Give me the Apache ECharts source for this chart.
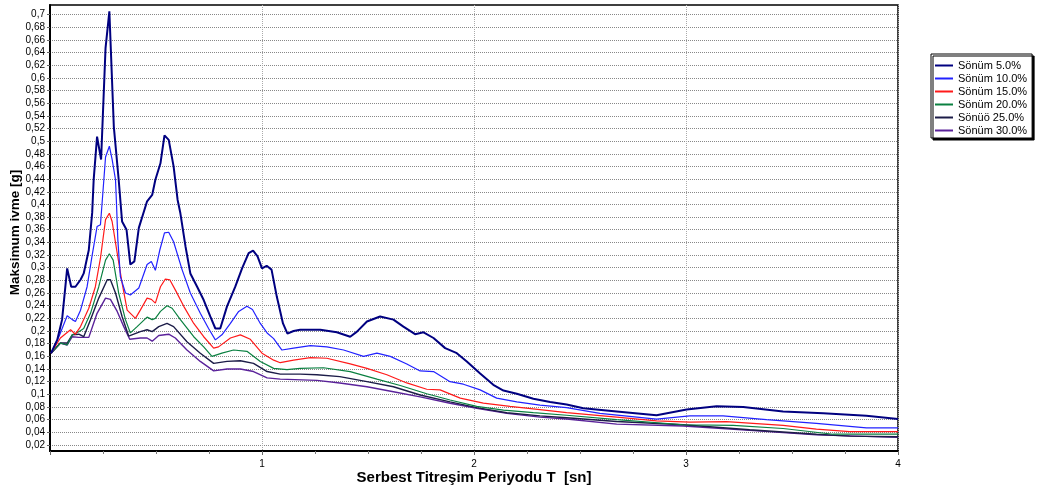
<!DOCTYPE html>
<html>
<head>
<meta charset="utf-8">
<script src="https://cdn.jsdelivr.net/npm/echarts@6/dist/echarts.min.js"></script>
<style>
html,body{margin:0;padding:0;background:#fff;}
#chart{width:1041px;height:493px;}
</style>
</head>
<body>
<div id="chart"></div>
<script>
const seriesNames = ['Sönüm 5.0%', 'Sönüm 10.0%', 'Sönüm 15.0%', 'Sönüm 20.0%', 'Sönüö 25.0%', 'Sönüm 30.0%'];

const yTicks = [0.02,0.04,0.06,0.08,0.1,0.12,0.14,0.16,0.18,0.2,0.22,0.24,0.26,0.28,0.3,0.32,0.34,0.36,0.38,0.4,0.42,0.44,0.46,0.48,0.5,0.52,0.54,0.56,0.58,0.6,0.62,0.64,0.66,0.68,0.7];

const damp5 = [[0.005,0.165],[0.034,0.186],[0.057,0.218],[0.081,0.299],[0.100,0.270],[0.120,0.270],[0.144,0.281],[0.159,0.291],[0.183,0.328],[0.199,0.387],[0.206,0.439],[0.222,0.507],[0.241,0.471],[0.262,0.647],[0.280,0.705],[0.301,0.523],[0.324,0.439],[0.340,0.373],[0.361,0.360],[0.379,0.305],[0.398,0.310],[0.419,0.363],[0.458,0.405],[0.482,0.415],[0.497,0.439],[0.521,0.465],[0.540,0.509],[0.560,0.502],[0.583,0.460],[0.602,0.407],[0.615,0.386],[0.639,0.334],[0.662,0.291],[0.694,0.270],[0.725,0.249],[0.756,0.223],[0.780,0.204],[0.803,0.204],[0.835,0.239],[0.874,0.270],[0.906,0.299],[0.937,0.323],[0.958,0.327],[0.979,0.318],[1.000,0.299],[1.022,0.303],[1.045,0.297],[1.070,0.254],[1.099,0.212],[1.120,0.196],[1.149,0.200],[1.180,0.202],[1.275,0.202],[1.353,0.198],[1.416,0.191],[1.448,0.199],[1.495,0.215],[1.557,0.223],[1.620,0.218],[1.667,0.207],[1.722,0.195],[1.762,0.198],[1.809,0.189],[1.864,0.173],[1.919,0.165],[1.966,0.152],[2.029,0.133],[2.091,0.115],[2.139,0.106],[2.202,0.101],[2.280,0.093],[2.359,0.088],[2.437,0.084],[2.516,0.078],[2.673,0.073],[2.861,0.067],[3.003,0.076],[3.144,0.081],[3.270,0.080],[3.458,0.073],[3.647,0.070],[3.851,0.066],[4.0,0.061]];

const damp10 = [[0.005,0.165],[0.042,0.191],[0.081,0.224],[0.105,0.218],[0.120,0.215],[0.144,0.233],[0.175,0.270],[0.199,0.320],[0.222,0.365],[0.238,0.368],[0.254,0.439],[0.262,0.475],[0.280,0.492],[0.293,0.471],[0.309,0.439],[0.313,0.407],[0.320,0.344],[0.332,0.286],[0.356,0.260],[0.379,0.257],[0.419,0.268],[0.458,0.305],[0.478,0.310],[0.497,0.296],[0.518,0.328],[0.540,0.355],[0.560,0.356],[0.583,0.341],[0.623,0.297],[0.662,0.260],[0.709,0.228],[0.748,0.204],[0.780,0.186],[0.811,0.194],[0.851,0.212],[0.890,0.231],[0.929,0.239],[0.955,0.234],[0.992,0.212],[1.024,0.197],[1.055,0.188],[1.094,0.170],[1.149,0.173],[1.228,0.177],[1.306,0.175],[1.385,0.170],[1.479,0.160],[1.542,0.165],[1.605,0.160],[1.683,0.148],[1.746,0.137],[1.809,0.136],[1.887,0.120],[1.950,0.116],[2.029,0.107],[2.107,0.094],[2.202,0.088],[2.311,0.083],[2.437,0.079],[2.594,0.070],[2.861,0.061],[3.018,0.066],[3.175,0.066],[3.379,0.060],[3.615,0.054],[3.851,0.047],[4.0,0.047]];

const damp15 = [[0.005,0.165],[0.049,0.189],[0.097,0.202],[0.120,0.195],[0.144,0.207],[0.183,0.236],[0.214,0.270],[0.238,0.315],[0.262,0.376],[0.280,0.386],[0.293,0.373],[0.317,0.323],[0.340,0.276],[0.364,0.233],[0.403,0.220],[0.426,0.233],[0.458,0.252],[0.478,0.250],[0.497,0.244],[0.521,0.270],[0.544,0.282],[0.565,0.281],[0.591,0.265],[0.631,0.239],[0.678,0.212],[0.725,0.191],[0.772,0.173],[0.795,0.175],[0.851,0.189],[0.898,0.194],[0.945,0.187],[1.000,0.165],[1.055,0.154],[1.086,0.150],[1.149,0.154],[1.228,0.158],[1.306,0.157],[1.416,0.148],[1.495,0.141],[1.589,0.131],[1.683,0.118],[1.777,0.108],[1.840,0.107],[1.935,0.094],[2.044,0.086],[2.170,0.081],[2.311,0.076],[2.437,0.071],[2.673,0.064],[2.861,0.058],[3.018,0.056],[3.191,0.057],[3.458,0.051],[3.615,0.045],[3.772,0.041],[4.0,0.041]];

const damp20 = [[0.005,0.165],[0.049,0.181],[0.081,0.178],[0.105,0.194],[0.136,0.199],[0.159,0.204],[0.191,0.228],[0.230,0.270],[0.262,0.312],[0.280,0.322],[0.298,0.312],[0.324,0.260],[0.356,0.218],[0.379,0.197],[0.411,0.207],[0.458,0.222],[0.482,0.218],[0.497,0.220],[0.521,0.231],[0.552,0.240],[0.576,0.236],[0.615,0.218],[0.678,0.191],[0.725,0.175],[0.764,0.160],[0.811,0.165],[0.866,0.170],[0.929,0.168],[0.992,0.152],[1.055,0.141],[1.118,0.139],[1.180,0.141],[1.290,0.142],[1.416,0.136],[1.542,0.124],[1.652,0.114],[1.777,0.101],[1.887,0.091],[2.013,0.081],[2.139,0.075],[2.280,0.071],[2.437,0.067],[2.673,0.060],[2.987,0.052],[3.222,0.051],[3.458,0.046],[3.694,0.037],[4.0,0.037]];

const damp25 = [[0.005,0.165],[0.049,0.181],[0.081,0.181],[0.105,0.194],[0.136,0.195],[0.159,0.191],[0.191,0.218],[0.230,0.252],[0.270,0.281],[0.285,0.281],[0.309,0.260],[0.340,0.223],[0.371,0.192],[0.426,0.199],[0.458,0.202],[0.482,0.199],[0.513,0.207],[0.552,0.212],[0.583,0.207],[0.646,0.183],[0.709,0.165],[0.772,0.149],[0.835,0.152],[0.898,0.153],[0.960,0.149],[1.024,0.136],[1.086,0.132],[1.180,0.132],[1.259,0.131],[1.367,0.128],[1.495,0.120],[1.620,0.112],[1.746,0.099],[1.887,0.088],[2.013,0.079],[2.155,0.071],[2.311,0.066],[2.437,0.063],[2.673,0.057],[2.987,0.052],[3.300,0.044],[3.615,0.037],[3.772,0.034],[4.0,0.033]];

const damp30 = [[0.005,0.165],[0.049,0.181],[0.081,0.178],[0.105,0.191],[0.136,0.190],[0.183,0.190],[0.222,0.228],[0.262,0.252],[0.285,0.250],[0.317,0.231],[0.348,0.207],[0.376,0.187],[0.426,0.189],[0.458,0.189],[0.482,0.184],[0.513,0.193],[0.560,0.195],[0.591,0.189],[0.646,0.170],[0.709,0.152],[0.772,0.137],[0.835,0.140],[0.898,0.140],[0.960,0.136],[1.024,0.126],[1.086,0.124],[1.259,0.122],[1.367,0.118],[1.495,0.112],[1.620,0.104],[1.746,0.096],[1.887,0.086],[2.013,0.078],[2.155,0.070],[2.311,0.064],[2.437,0.061],[2.673,0.053],[2.987,0.050],[3.300,0.043],[3.615,0.036],[4.0,0.032]];

const seriesData = [damp5, damp10, damp15, damp20, damp25, damp30];
const colors = ['#000080', '#2222ff', '#ff1a1a', '#0a8040', '#1c1c48', '#5a229a'];
const widths = [2, 1.2, 1.2, 1.2, 1.4, 1.4];

const FONT = 'Liberation Sans, Arial, sans-serif';
const chart = echarts.init(document.getElementById('chart'), null, {renderer: 'canvas'});

chart.setOption({
  animation: false,
  backgroundColor: '#fff',
  grid: {left: 50, right: 143, top: 5, bottom: 42, outerBoundsMode: 'none', containLabel: false, show: true, borderColor: '#000', borderWidth: 1.5, backgroundColor: 'transparent'},
  legend: {
    orient: 'vertical', left: 931, top: 54,
    padding: [5, 5, 1, 4],
    itemWidth: 18, itemHeight: 2, itemGap: 0,
    icon: 'rect', selectedMode: false,
    backgroundColor: '#fff', borderColor: '#000', borderWidth: 1,
    shadowColor: '#000', shadowOffsetX: 2, shadowOffsetY: 2, shadowBlur: 0,
    textStyle: {fontFamily: FONT, fontSize: 11, color: '#000', lineHeight: 13, padding: [0,0,0,0]},
    data: seriesNames
  },
  xAxis: {
    type: 'value', min: 0, max: 4, interval: 1,
    name: 'Serbest Titreşim Periyodu T  [sn]', nameLocation: 'middle', nameGap: 19, nameMoveOverlap: false,
    nameTextStyle: {fontFamily: FONT, fontSize: 15, fontWeight: 'bold', color: '#000'},
    axisLine: {show: true, onZero: false, lineStyle: {color: '#000', width: 2}},
    axisTick: {show: true, length: 4, lineStyle: {color: '#666'}},
    minorTick: {show: true, splitNumber: 4, length: 3, lineStyle: {color: '#777'}},
    axisLabel: {showMinLabel: false, fontFamily: FONT, fontSize: 10, color: '#000', margin: 8},
    splitLine: {show: true, lineStyle: {type: 'dotted', color: '#aaa', width: 1}},
    minorSplitLine: {show: false}
  },
  yAxis: {
    type: 'value', min: 0.0105, max: 0.715,
    name: 'Maksimum ivme [g]', nameLocation: 'middle', nameGap: 28, nameRotate: 90, nameMoveOverlap: false,
    nameTextStyle: {fontFamily: FONT, fontSize: 13.5, fontWeight: 'bold', color: '#000', padding: [0, 9, 0, 0]},
    axisLine: {show: true, onZero: false, lineStyle: {color: '#000', width: 2}},
    axisTick: {show: true, length: 3, customValues: yTicks, lineStyle: {color: '#666'}},
    axisLabel: {
      customValues: yTicks, fontFamily: FONT, fontSize: 10, color: '#000', margin: 5,
      formatter: v => String(parseFloat(Number(v).toFixed(2))).replace('.', ',')
    },
    splitLine: {show: true, lineStyle: {type: 'dotted', color: '#888', width: 1}}
  },
  series: seriesNames.map((n, i) => ({
    name: n, type: 'line', data: seriesData[i],
    showSymbol: false, symbol: 'none',
    lineStyle: {color: colors[i], width: widths[i]},
    itemStyle: {color: colors[i]},
    z: 10 - i
  }))
});
</script>
</body>
</html>
